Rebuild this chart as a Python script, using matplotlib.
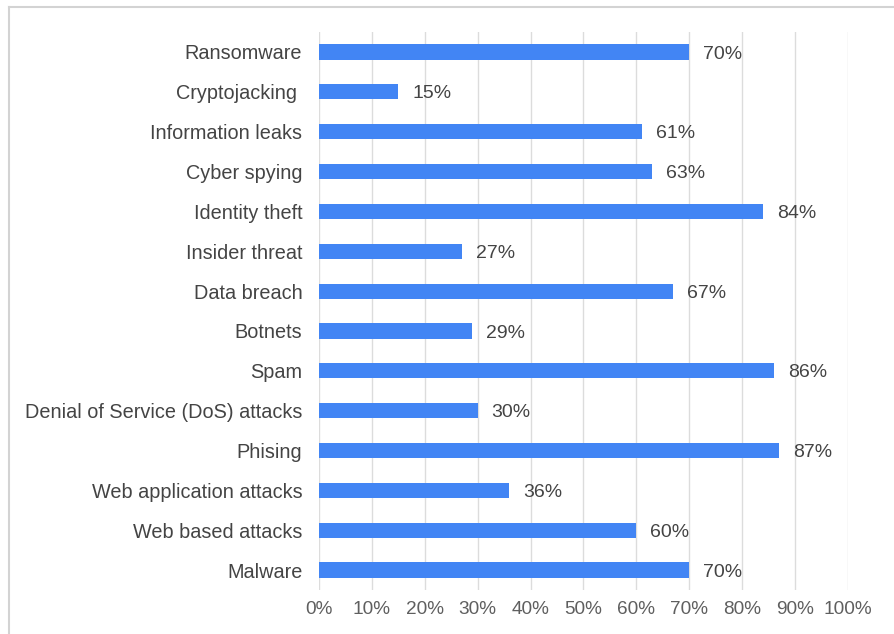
import matplotlib.pyplot as plt
from matplotlib.lines import Line2D

# Tipos de ataque y porcentaje
ataques = ["Ransomware", "Cryptojacking ", "Information leaks", "Cyber spying",
           "Identity theft", "Insider threat", "Data breach", "Botnets", "Spam",
           "Denial of Service (DoS) attacks", "Phising", "Web application attacks",
           "Web based attacks", "Malware"]
porcentajes = [70, 15, 61, 63, 84, 27, 67, 29, 86, 30, 87, 36, 60, 70]
ticks = [0, 10, 20, 30, 40, 50, 60, 70, 80, 90, 100]

plt.rcParams['font.family'] = ['Liberation Sans', 'DejaVu Sans']

fig = plt.figure(figsize=(8.94, 6.34), dpi=100)
ax = fig.add_axes([0.3568, 0.0694, 0.5917, 0.8801])

pos = list(range(len(ataques)))
ax.barh(pos, porcentajes, height=0.38, color="#4285F4", zorder=3)
for y, v in zip(pos, porcentajes):
    ax.annotate(f"{v}%", (v, y), xytext=(10, -1.5), textcoords="offset points",
                va="center", ha="left", fontsize=14, color="#444444")

ax.set_xlim(0, 100)
ax.set_ylim(len(ataques) - 0.5, -0.5)
ax.set_yticks(pos)
ax.set_yticklabels(ataques, fontsize=14.3, color="#444444")
ax.set_xticks(ticks)
ax.set_xticklabels([f"{t}%" for t in ticks], fontsize=13.7, color="#5f5f5f")
ax.tick_params(axis="y", length=0, pad=12)
ax.tick_params(axis="x", length=0, pad=8)
ax.grid(axis="x", color="#dcdcdc", linewidth=1, zorder=0)
for s in ax.spines.values():
    s.set_visible(False)

# borde de la imagen
fig.add_artist(Line2D([9 / 894, 1], [1 - 7 / 634, 1 - 7 / 634], color="#d3d3d3", linewidth=1.5))
fig.add_artist(Line2D([9 / 894, 9 / 894], [0, 1 - 7 / 634], color="#d3d3d3", linewidth=1.5))

plt.savefig("out.png", dpi=100)
